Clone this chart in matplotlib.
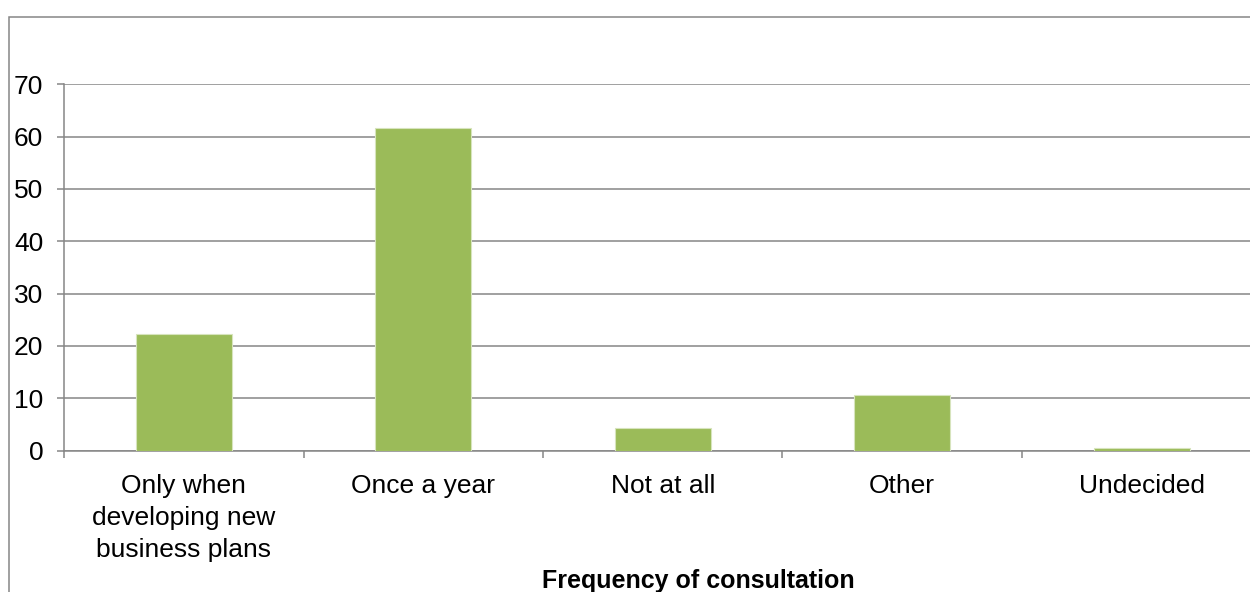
import numpy as np
import matplotlib.pyplot as plt
from matplotlib.patches import Rectangle

plt.rcParams['font.family'] = ['Liberation Sans', 'DejaVu Sans']

# Frequency of consultation survey results
categories = ['Only when\ndeveloping new\nbusiness plans', 'Once a year',
              'Not at all', 'Other', 'Undecided']
values = [22.3, 61.7, 4.4, 10.7, 0.5]
y_ticks = [0, 10, 20, 30, 40, 50, 60, 70]

grey = '#868686'
green = '#9BBB59'

fig = plt.figure(figsize=(12.5, 5.92), dpi=100)
ax = fig.add_axes([0.0512, 0.2387, 0.958, 0.619])

x = np.arange(len(categories))
ax.bar(x, values, width=0.4, color=green, edgecolor='#d7e4bd', linewidth=0.8, zorder=3)

ax.set_xlim(-0.5, len(categories) - 0.5)
ax.set_ylim(0, 70)
ax.set_yticks(y_ticks)
ax.yaxis.grid(True, color=grey, linewidth=1.1, zorder=0)
ax.set_axisbelow(True)

ax.set_xticks(x)
ax.set_xticklabels(categories, fontsize=19, linespacing=1.43)
ax.set_xticks(np.arange(-0.5, len(categories), 1.0), minor=True)
ax.tick_params(axis='x', which='major', length=0, pad=16.5)
ax.tick_params(axis='x', which='minor', length=5, width=1.1, color=grey, direction='out')
ax.tick_params(axis='y', labelsize=19, length=5, width=1.1, color=grey, pad=10)

for s in ['top', 'right']:
    ax.spines[s].set_visible(False)
for s in ['left', 'bottom']:
    ax.spines[s].set_color(grey)
    ax.spines[s].set_linewidth(1.1)

fig.text(0.5584, 0.006, 'Frequency of consultation', fontsize=18,
         fontweight='bold', ha='center', va='baseline')

# chart area frame, running off the right and bottom edges
fig.patches.append(Rectangle((8.5 / 1250, -0.2), 1.2, 1.2 - 16.5 / 592,
                             transform=fig.transFigure, fill=False,
                             edgecolor=grey, linewidth=1.1, clip_on=False))

fig.savefig('out.png', dpi=100)
